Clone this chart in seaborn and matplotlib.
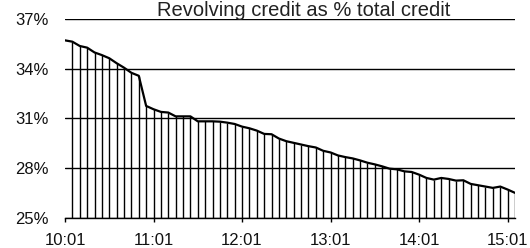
import matplotlib
matplotlib.use("Agg")
import matplotlib.pyplot as plt
import seaborn as sns
import pandas as pd

sns.set_theme(style="white")
plt.rcParams['font.family'] = ['Liberation Sans', 'DejaVu Sans']

# monthly share of revolving credit, Jan 2010 .. Feb 2015
revolving = [35.71, 35.63, 35.37, 35.27, 34.98, 34.82, 34.63, 34.33, 34.06, 33.75,
             33.57, 31.75, 31.55, 31.39, 31.35, 31.12, 31.12, 31.12, 30.82, 30.82,
             30.82, 30.80, 30.74, 30.66, 30.50, 30.40, 30.26, 30.06, 30.04, 29.78,
             29.62, 29.52, 29.42, 29.32, 29.24, 29.04, 28.94, 28.76, 28.66, 28.58,
             28.46, 28.32, 28.22, 28.10, 27.96, 27.92, 27.80, 27.76, 27.60, 27.40,
             27.30, 27.40, 27.34, 27.24, 27.26, 27.04, 26.96, 26.88, 26.80, 26.88,
             26.70, 26.50]
month = list(range(len(revolving)))
tick_pos = [0, 12, 24, 36, 48, 60]
tick_labels = ["10:01", "11:01", "12:01", "13:01", "14:01", "15:01"]
y_ticks = [25, 28, 31, 34, 37]

df = pd.DataFrame({"month": month, "share": revolving})

fig = plt.figure(figsize=(5.3, 2.48), dpi=100)
ax = fig.add_axes([65 / 530, (248 - 217.7) / 248, 450 / 530, (217.7 - 19) / 248])

ax.vlines(df["month"][1:], 25, df["share"][1:], color="black", lw=1, zorder=3)
sns.lineplot(data=df, x="month", y="share", color="black", lw=1.6, ax=ax, zorder=4)

ax.set_xlim(0, 61)
ax.set_ylim(25, 37)
ax.set_yticks(y_ticks)
ax.set_yticklabels([f"{v}%" for v in y_ticks])
ax.set_xticks(tick_pos)
ax.set_xticklabels(tick_labels)
ax.set_xlabel("")
ax.set_ylabel("")
ax.yaxis.grid(True, color="black", lw=1)
ax.xaxis.grid(False)
for s in ["top", "left", "right"]:
    ax.spines[s].set_visible(False)
ax.spines["bottom"].set_color("black")
ax.spines["bottom"].set_linewidth(1)
ax.tick_params(axis="x", bottom=True, direction="out", length=3, width=1,
               color="black", labelsize=12, labelcolor="#111111", pad=8)
ax.tick_params(axis="y", left=False, length=0, labelsize=12,
               labelcolor="#111111", pad=12)

fig.text(303.5 / 530, 1 - 16 / 248, "Revolving credit as % total credit",
         ha="center", va="baseline", fontsize=14.5, color="#222222")

fig.savefig("out.png", dpi=100)
